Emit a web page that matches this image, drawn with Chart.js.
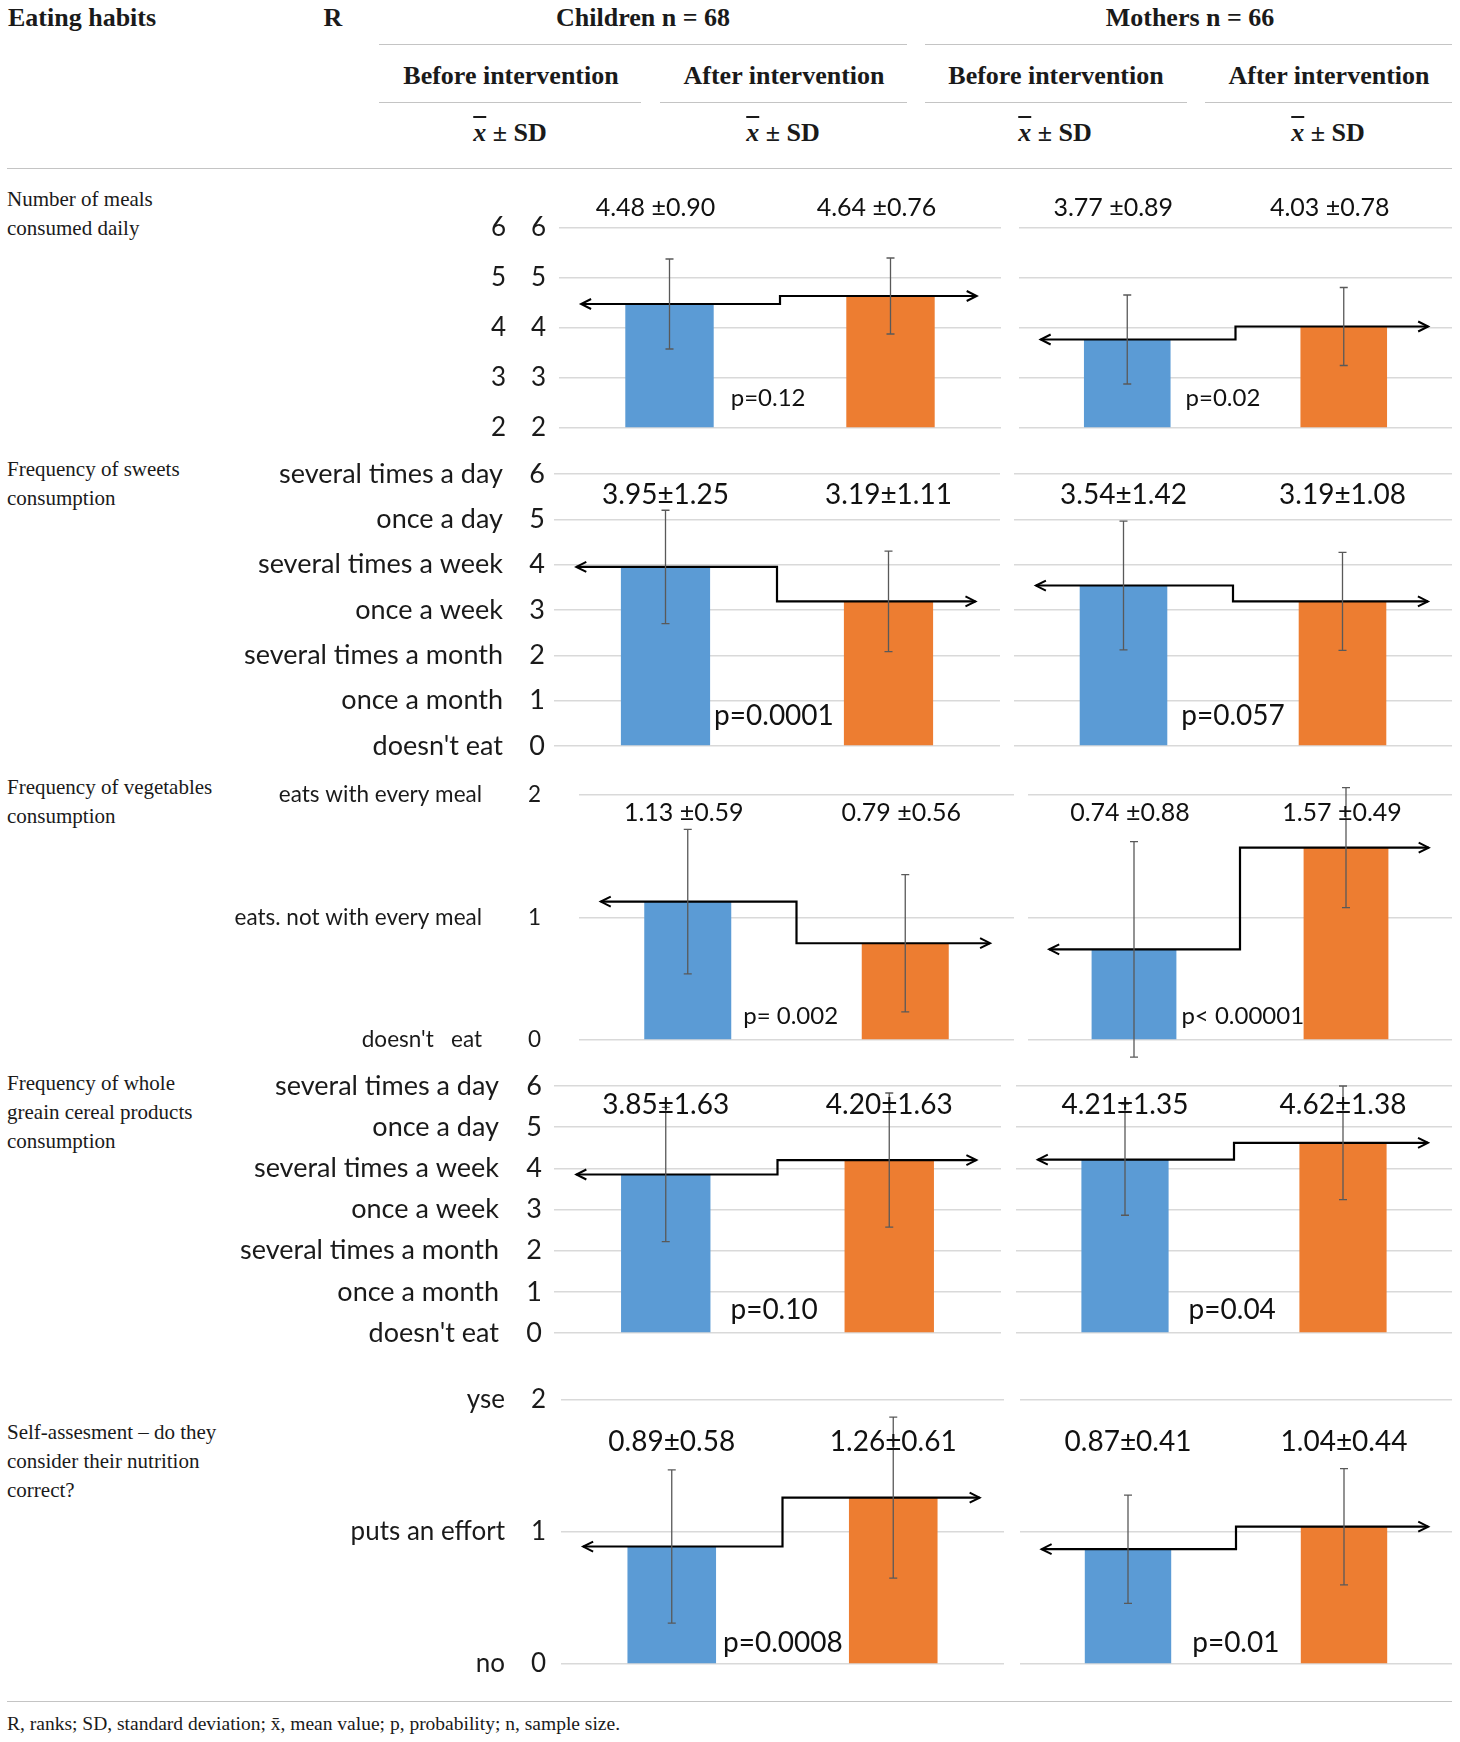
<!DOCTYPE html>
<html>
<head>
<meta charset="utf-8">
<title>Eating habits</title>
<script src="https://cdn.jsdelivr.net/npm/chart.js@4.4.1/dist/chart.umd.min.js"></script>
<style>
  html, body { margin: 0; padding: 0; background: #fff; }
  #page { position: relative; width: 1460px; height: 1742px; overflow: hidden;
          font-family: "Liberation Serif", "DejaVu Serif", serif; color: #1a1a1a; }
  .t { position: absolute; white-space: nowrap; }
  .h { font-weight: bold; font-size: 26px; line-height: 30px; }
  .c { transform: translateX(-50%); }
  .lbl { font-size: 21px; line-height: 29px; }
  .foot { font-size: 19.5px; line-height: 29px; }
  .rule { position: absolute; height: 0; border-top: 1.5px solid #c4c4c4; }
  .box { position: absolute; }
  .box canvas { display: block; }
</style>
</head>
<body>
<div id="page">
  <!-- table header -->
  <div class="t h" style="left:8px;top:3px">Eating habits</div>
  <div class="t h c" style="left:333px;top:3px">R</div>
  <div class="t h c" style="left:643px;top:3px">Children n = 68</div>
  <div class="t h c" style="left:1190px;top:3px">Mothers n = 66</div>
  <div class="rule" style="left:379px;top:44px;width:528px"></div>
  <div class="rule" style="left:925px;top:44px;width:527px"></div>

  <div class="t h c" style="left:511px;top:61px">Before intervention</div>
  <div class="t h c" style="left:784px;top:61px">After intervention</div>
  <div class="t h c" style="left:1056px;top:61px">Before intervention</div>
  <div class="t h c" style="left:1329px;top:61px">After intervention</div>
  <div class="rule" style="left:379px;top:102px;width:262px"></div>
  <div class="rule" style="left:660px;top:102px;width:247px"></div>
  <div class="rule" style="left:925px;top:102px;width:262px"></div>
  <div class="rule" style="left:1205px;top:102px;width:247px"></div>

  <div class="t h c" style="left:510px;top:118px"><i style="text-decoration:overline">x</i> ± SD</div>
  <div class="t h c" style="left:783px;top:118px"><i style="text-decoration:overline">x</i> ± SD</div>
  <div class="t h c" style="left:1055px;top:118px"><i style="text-decoration:overline">x</i> ± SD</div>
  <div class="t h c" style="left:1328px;top:118px"><i style="text-decoration:overline">x</i> ± SD</div>
  <div class="rule" style="left:7px;top:168px;width:1445px"></div>

  <!-- row titles -->
  <div class="t lbl" style="left:7px;top:185px">Number of meals<br>consumed daily</div>
  <div class="t lbl" style="left:7px;top:455px">Frequency of sweets<br>consumption</div>
  <div class="t lbl" style="left:7px;top:773px">Frequency of vegetables<br>consumption</div>
  <div class="t lbl" style="left:7px;top:1069px">Frequency of whole<br>greain cereal products<br>consumption</div>
  <div class="t lbl" style="left:7px;top:1418px">Self-assesment – do they<br>consider their nutrition<br>correct?</div>

  <div class="rule" style="left:7px;top:1701px;width:1445px"></div>
  <div class="t foot" style="left:7px;top:1709px">R, ranks; SD, standard deviation; x̄, mean value; p, probability; n, sample size.</div>
</div>

<script>
// Data
const categories = ['Before intervention', 'After intervention'];

const ranksMeals = ['2', '3', '4', '5', '6'];
const ranksFreq = ["doesn't eat", 'once a month', 'several times a month', 'once a week',
                   'several times a week', 'once a day', 'several times a day'];
const ranksVeg = ["doesn't   eat", 'eats. not with every meal', 'eats with every meal'];
const ranksSelf = ['no', 'puts an effort', 'yse'];
const rankLabels = [ranksMeals, ranksFreq, ranksVeg, ranksFreq, ranksSelf];

const yMin = [2, 0, 0, 0, 0];
const yMax = [6, 6, 2, 6, 2];

const childMean = [[4.48, 4.64], [3.95, 3.19], [1.13, 0.79], [3.85, 4.20], [0.89, 1.26]];
const childSD = [[0.90, 0.76], [1.25, 1.11], [0.59, 0.56], [1.63, 1.63], [0.58, 0.61]];
const motherMean = [[3.77, 4.03], [3.54, 3.19], [0.74, 1.57], [4.21, 4.62], [0.87, 1.04]];
const motherSD = [[0.89, 0.78], [1.42, 1.08], [0.88, 0.49], [1.35, 1.38], [0.41, 0.44]];

const childP = ['p=0.12', 'p=0.0001', 'p= 0.002', 'p=0.10', 'p=0.0008'];
const motherP = ['p=0.02', 'p=0.057', 'p< 0.00001', 'p=0.04', 'p=0.01'];
const labelSep = [' ±', '±', ' ±', '±', '±'];

// Layout of each row on the page (pixels), kept apart from the data
const rows = [
  { top: 228, bottom: 428, child: [559, 1001], mother: [1019, 1452], numRight: 546, rankRight: 506,
    labelY: 6.4, pY: 2.6, pGap: [17, 15], labelDx: -14, font: 25, pFont: 24, tickFont: 26 },
  { top: 474, bottom: 746, child: [554, 1000], mother: [1014, 1452], numRight: 545, rankRight: 503,
    labelY: 5.54, pY: 0.66, pGap: [4, 14], labelDx: 0, font: 28, pFont: 28, tickFont: 27 },
  { top: 795, bottom: 1040, child: [579, 1014], mother: [1028, 1452], numRight: 541, rankRight: 482,
    labelY: 1.85, pY: 0.19, pGap: [12, 5], labelDx: -4, font: 25, pFont: 24, tickFont: 22.5 },
  { top: 1086, bottom: 1333, child: [554, 1001], mother: [1016, 1452], numRight: 542, rankRight: 499,
    labelY: 5.54, pY: 0.55, pGap: [20, 20], labelDx: 0, font: 28, pFont: 28, tickFont: 27 },
  { top: 1400, bottom: 1664, child: [561, 1004], mother: [1020, 1452], numRight: 546, rankRight: 505,
    labelY: 1.68, pY: 0.16, pGap: [7, 21], labelDx: 0, font: 28, pFont: 28, tickFont: 26 }
];

const BLUE = '#5B9BD5';
const ORANGE = '#ED7D31';
const PAD_TOP = 85, PAD_BOTTOM = 85;

// Error bars, step line with arrows, mean ± SD and p labels
const overlay = {
  id: 'overlay',
  afterDatasetsDraw(chart, args, opts) {
    const { ctx } = chart;
    const y = chart.scales.y;
    const bars = chart.getDatasetMeta(0).data;
    const { mean, sd, row, pText, pGap, sep } = opts;
    ctx.save();

    // step line
    const cat = bars[1].x - bars[0].x;
    const xl = bars[0].x - 0.4 * cat;
    const xr = bars[1].x + 0.39 * cat;
    const xm = (bars[0].x + bars[1].x) / 2;
    const y0 = y.getPixelForValue(mean[0]);
    const y1 = y.getPixelForValue(mean[1]);
    ctx.strokeStyle = '#000';
    ctx.lineWidth = 2.2;
    ctx.beginPath();
    ctx.moveTo(xl, y0); ctx.lineTo(xm, y0); ctx.lineTo(xm, y1); ctx.lineTo(xr, y1);
    ctx.stroke();
    ctx.lineWidth = 2;
    ctx.beginPath();
    ctx.moveTo(xl + 10, y0 - 5); ctx.lineTo(xl, y0); ctx.lineTo(xl + 10, y0 + 5);
    ctx.moveTo(xr - 10, y1 - 5); ctx.lineTo(xr, y1); ctx.lineTo(xr - 10, y1 + 5);
    ctx.stroke();

    // error bars
    ctx.strokeStyle = '#595959';
    ctx.lineWidth = 1.3;
    bars.forEach((bar, i) => {
      const hi = y.getPixelForValue(mean[i] + sd[i]);
      const lo = y.getPixelForValue(mean[i] - sd[i]);
      ctx.beginPath();
      ctx.moveTo(bar.x, hi); ctx.lineTo(bar.x, lo);
      ctx.moveTo(bar.x - 4, hi); ctx.lineTo(bar.x + 4, hi);
      ctx.moveTo(bar.x - 4, lo); ctx.lineTo(bar.x + 4, lo);
      ctx.stroke();
    });

    // labels
    ctx.fillStyle = '#111';
    ctx.textBaseline = 'middle';
    ctx.font = `${row.font}px Lato`;
    ctx.textAlign = 'center';
    bars.forEach((bar, i) => {
      const txt = mean[i].toFixed(2) + sep + sd[i].toFixed(2);
      ctx.fillText(txt, bar.x + row.labelDx, y.getPixelForValue(row.labelY));
    });
    ctx.font = `${row.pFont}px Lato`;
    ctx.textAlign = 'left';
    ctx.fillText(pText, bars[0].x + bars[0].width / 2 + pGap, y.getPixelForValue(row.pY));
    ctx.restore();
  }
};

const page = document.getElementById('page');

function addCanvas(left, top, width, height) {
  const box = document.createElement('div');
  box.className = 'box';
  box.style.left = left + 'px';
  box.style.top = top + 'px';
  box.style.width = width + 'px';
  box.style.height = height + 'px';
  const cv = document.createElement('canvas');
  box.appendChild(cv);
  page.appendChild(box);
  return cv;
}

function makeChart(i, who) {
  const row = rows[i];
  const isChild = who === 'child';
  const [gl, gr] = isChild ? row.child : row.mother;
  const boxLeft = isChild ? 0 : gl - 10;
  const boxWidth = isChild ? gr + 10 : gr - boxLeft + 8;
  const boxTop = row.top - PAD_TOP;
  const boxHeight = row.bottom - row.top + PAD_TOP + PAD_BOTTOM;
  const mean = isChild ? childMean[i] : motherMean[i];
  const sd = isChild ? childSD[i] : motherSD[i];
  const tickFont = { family: 'Lato', size: row.tickFont };

  // the numeric axis sits right against the plot, the rank words further out
  const numWidth = gl - row.numRight + 22;
  const rankWidth = gl - numWidth;

  const scales = {
    x: { type: 'category', display: false },
    y: {
      position: 'left',
      weight: 0,
      min: yMin[i],
      max: yMax[i],
      ticks: {
        display: isChild,
        stepSize: 1,
        autoSkip: false,
        padding: isChild ? gl - row.numRight : 0,
        color: '#1a1a1a',
        font: tickFont
      },
      grid: { color: '#d9d9d9', lineWidth: 1.5, drawTicks: false },
      border: { display: false },
      afterFit: (s) => { s.width = isChild ? numWidth : 0; }
    }
  };
  if (isChild) {
    scales.rank = {
      type: 'linear',
      position: 'left',
      weight: 1,
      min: yMin[i],
      max: yMax[i],
      ticks: {
        stepSize: 1,
        autoSkip: false,
        padding: rankWidth - row.rankRight,
        color: '#1a1a1a',
        font: tickFont,
        callback: (v) => rankLabels[i][v - yMin[i]] ?? ''
      },
      grid: { display: false, drawTicks: false },
      border: { display: false },
      afterFit: (s) => { s.width = rankWidth; }
    };
  }

  const cv = addCanvas(boxLeft, boxTop, boxWidth, boxHeight);
  return new Chart(cv.getContext('2d'), {
    type: 'bar',
    data: {
      labels: categories,
      datasets: [{
        data: mean,
        base: yMin[i],
        backgroundColor: [BLUE, ORANGE],
        barPercentage: 0.4,
        categoryPercentage: 1.0
      }]
    },
    options: {
      responsive: true,
      maintainAspectRatio: false,
      animation: false,
      events: [],
      layout: {
        autoPadding: false,
        padding: { left: isChild ? 0 : 10, right: isChild ? 10 : 8, top: PAD_TOP, bottom: PAD_BOTTOM }
      },
      plugins: {
        legend: { display: false },
        tooltip: { enabled: false },
        overlay: {
          mean, sd, row,
          pText: isChild ? childP[i] : motherP[i],
          pGap: row.pGap[isChild ? 0 : 1],
          sep: labelSep[i]
        }
      },
      scales
    },
    plugins: [overlay]
  });
}

rows.forEach((row, i) => {
  makeChart(i, 'child');
  makeChart(i, 'mother');
});
</script>
</body>
</html>
